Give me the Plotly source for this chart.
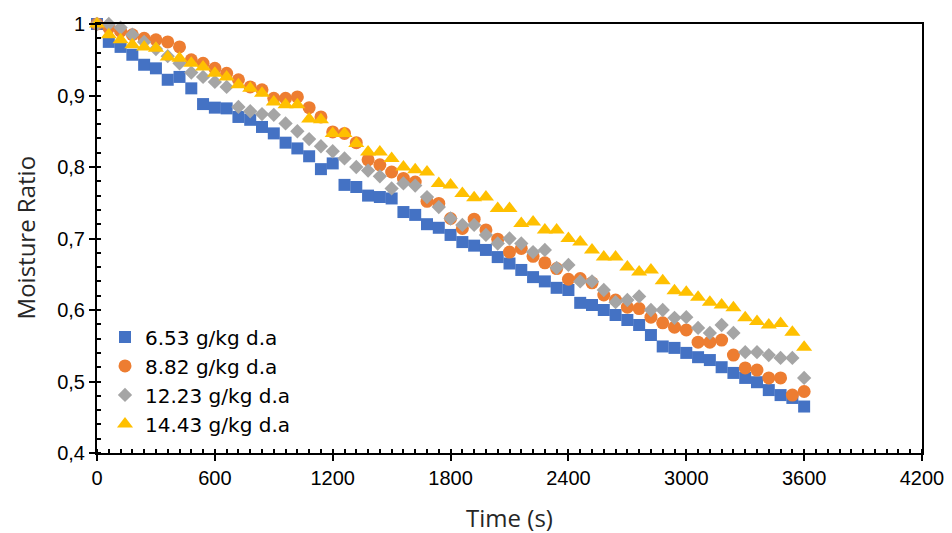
import plotly.graph_objects as go

time_s = list(range(0, 3601, 60))

mr_653 = [1.0, 0.975, 0.968, 0.957, 0.943, 0.938, 0.922, 0.926, 0.91, 0.888,
          0.883, 0.882, 0.87, 0.866, 0.856, 0.847, 0.834, 0.826, 0.815, 0.797,
          0.805, 0.775, 0.772, 0.76, 0.758, 0.756, 0.737, 0.733, 0.72, 0.715,
          0.705, 0.695, 0.69, 0.684, 0.674, 0.665, 0.656, 0.646, 0.64, 0.631,
          0.628, 0.61, 0.607, 0.60, 0.593, 0.586, 0.579, 0.565, 0.549, 0.547,
          0.54, 0.534, 0.53, 0.52, 0.512, 0.505, 0.499, 0.488, 0.481, 0.477,
          0.465]

mr_882 = [1.0, 0.995, 0.99, 0.985, 0.98, 0.978, 0.975, 0.968, 0.95, 0.945,
          0.938, 0.931, 0.922, 0.912, 0.908, 0.896, 0.896, 0.898, 0.883, 0.87,
          0.849, 0.847, 0.834, 0.81, 0.803, 0.793, 0.784, 0.779, 0.752, 0.749,
          0.728, 0.714, 0.727, 0.712, 0.699, 0.681, 0.686, 0.675, 0.666, 0.658,
          0.643, 0.644, 0.638, 0.621, 0.614, 0.604, 0.602, 0.59, 0.582, 0.576,
          0.572, 0.555, 0.555, 0.558, 0.537, 0.519, 0.516, 0.505, 0.505, 0.481,
          0.486]

mr_1223 = [1.0, 1.0, 0.995, 0.985, 0.975, 0.965, 0.955, 0.945, 0.932, 0.926,
           0.919, 0.912, 0.884, 0.878, 0.874, 0.873, 0.861, 0.85, 0.839, 0.829,
           0.822, 0.812, 0.80, 0.795, 0.787, 0.77, 0.777, 0.774, 0.758, 0.744,
           0.728, 0.719, 0.719, 0.705, 0.693, 0.70, 0.693, 0.681, 0.684, 0.659,
           0.663, 0.64, 0.64, 0.628, 0.611, 0.614, 0.619, 0.60, 0.60, 0.589,
           0.59, 0.575, 0.568, 0.579, 0.568, 0.541, 0.541, 0.537, 0.533, 0.533,
           0.505]

mr_1443 = [1.0, 0.985, 0.978, 0.971, 0.968, 0.966, 0.954, 0.952, 0.945, 0.94,
           0.931, 0.926, 0.915, 0.91, 0.903, 0.891, 0.887, 0.887, 0.867, 0.866,
           0.847, 0.847, 0.833, 0.821, 0.821, 0.812, 0.80, 0.796, 0.793, 0.777,
           0.775, 0.763, 0.757, 0.758, 0.742, 0.742, 0.721, 0.723, 0.712, 0.712,
           0.70, 0.695, 0.684, 0.674, 0.674, 0.66, 0.653, 0.656, 0.641, 0.627,
           0.625, 0.618, 0.611, 0.607, 0.603, 0.589, 0.584, 0.579, 0.581, 0.569,
           0.548]

series_names = ["6.53 g/kg d.a", "8.82 g/kg d.a", "12.23 g/kg d.a", "14.43 g/kg d.a"]
series_values = [mr_653, mr_882, mr_1223, mr_1443]
colors = ["#4472C4", "#ED7D31", "#A5A5A5", "#FFC000"]
symbols = ["square", "circle", "diamond", "triangle-up"]
sizes = [12, 13, 11, 14]

x_ticks = [0, 600, 1200, 1800, 2400, 3000, 3600, 4200]
x_title = "Time (s)"
y_title = "Moisture Ratio"

fig = go.Figure()
for name, vals, c, s, sz in zip(series_names, series_values, colors, symbols, sizes):
    assert len(vals) == len(time_s)
    fig.add_trace(go.Scatter(
        x=time_s, y=vals, mode="markers", name=name,
        marker=dict(color=c, symbol=s, size=sz, line=dict(width=0)),
        cliponaxis=False,
    ))

axis_font = dict(family="Liberation Sans, Arial", size=20, color="#000000")
title_font = dict(family="Open Sans, Noto Sans", size=24, color="#262626")

fig.update_layout(
    width=952, height=533,
    margin=dict(l=89, r=38, t=16, b=88),
    paper_bgcolor="white", plot_bgcolor="white",
    separators=",.",
    showlegend=True,
    legend=dict(
        x=0.0097, y=0.316, xanchor="left", yanchor="top",
        font=dict(family="DejaVu Sans", size=20, color="#000000"),
        bgcolor="rgba(255,255,255,0)",
        itemwidth=30, tracegroupgap=0,
    ),
    xaxis=dict(
        range=[0, 4200], tickvals=x_ticks, ticks="outside", ticklen=6,
        tickwidth=2, tickcolor="black",
        showline=True, linecolor="black", linewidth=2, mirror=True,
        showgrid=False, zeroline=False, automargin=False,
        tickfont=axis_font,
        title=dict(text=x_title, font=title_font, standoff=22),
        minor=dict(dtick=60, ticks="inside", ticklen=4, tickwidth=1.5, tickcolor="black", showgrid=False),
    ),
    yaxis=dict(
        range=[0.4, 1.0], dtick=0.1, tick0=0.4, ticks="outside", ticklen=6,
        tickwidth=2, tickcolor="black",
        showline=True, linecolor="black", linewidth=2, mirror=True,
        showgrid=False, zeroline=False, automargin=False,
        tickfont=axis_font,
        minor=dict(dtick=0.02, ticks="inside", ticklen=4, tickwidth=1.5, tickcolor="black", showgrid=False),
    ),
    annotations=[dict(
        text=y_title, textangle=-90, font=title_font,
        xref="paper", yref="paper", x=-0.087, y=0.503,
        xanchor="center", yanchor="middle", showarrow=False,
    )],
)

fig.write_html("out.html")
